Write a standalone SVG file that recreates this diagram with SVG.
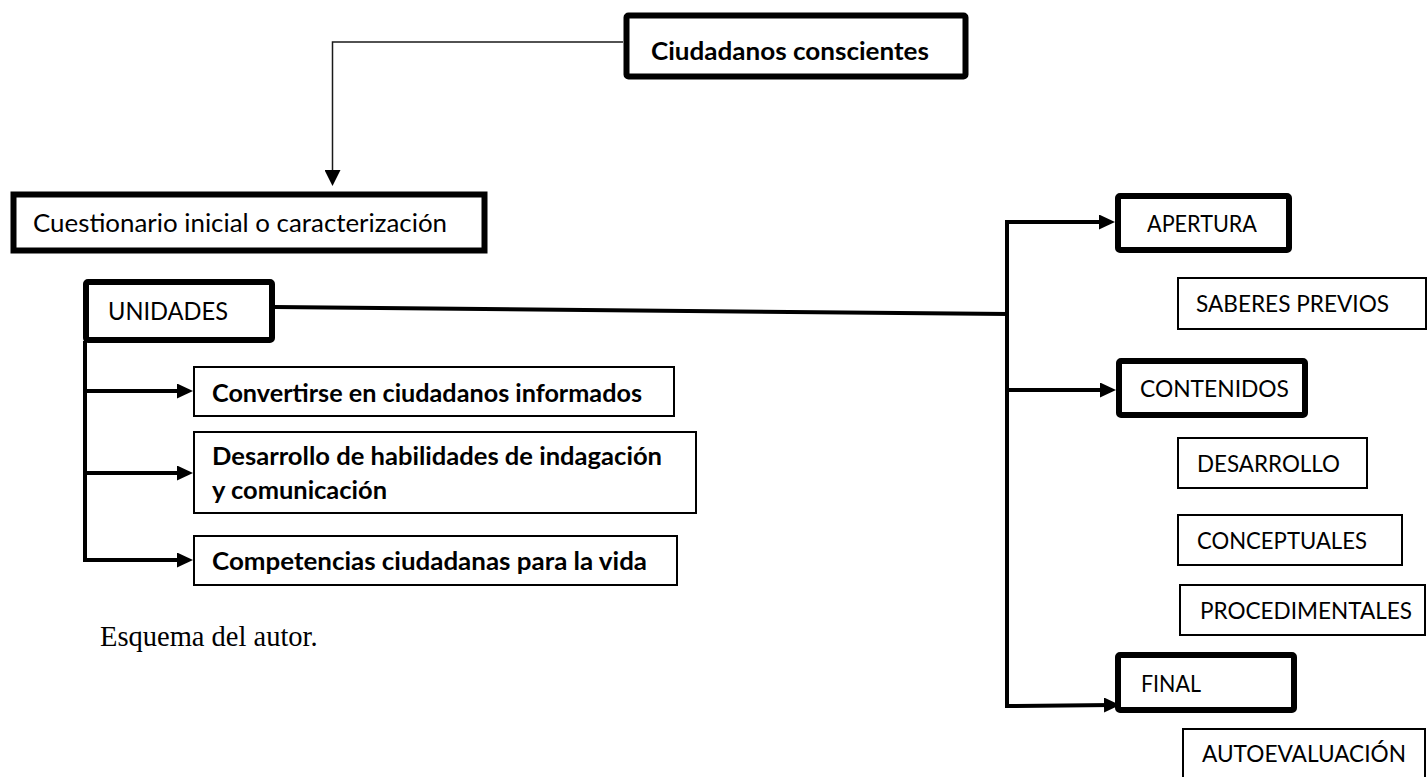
<svg xmlns="http://www.w3.org/2000/svg" width="1428" height="777" viewBox="0 0 1428 777">
<defs>
<style>
.thick{fill:#fff;stroke:#000;stroke-width:6;}
.thin{fill:#fff;stroke:#000;stroke-width:2;}
.t{font-family:Lato,"Liberation Sans",sans-serif;font-size:25px;fill:#000;}
.tr{font-family:Lato,"Liberation Sans",sans-serif;font-size:23.5px;fill:#000;}
.b{font-weight:bold;}
.conn{fill:none;stroke:#000;stroke-width:4;}
.connThin{fill:none;stroke:#1a1a1a;stroke-width:1.5;}
</style>
<marker id="ah" markerUnits="userSpaceOnUse" markerWidth="16" markerHeight="15" refX="8" refY="7.5" orient="auto">
<path d="M0,0 L16,7.5 L0,15 Z" fill="#000"/>
</marker>
<marker id="ahS" markerUnits="userSpaceOnUse" markerWidth="16" markerHeight="16" refX="8" refY="8" orient="auto">
<path d="M0,0 L16,8 L0,16 Z" fill="#000"/>
</marker>
</defs>
<rect width="1428" height="777" fill="#fff"/>

<g id="connectors">
<polyline class="connThin" points="623,42 332.5,42 332.5,178" marker-end="url(#ahS)"/>
<line class="conn" x1="85" y1="341" x2="85" y2="562" stroke-width="3.5"/>
<line class="conn" x1="85" y1="391" x2="185" y2="391" marker-end="url(#ah)"/>
<line class="conn" x1="85" y1="473" x2="185" y2="473" marker-end="url(#ah)"/>
<line class="conn" x1="85" y1="560" x2="185" y2="560" marker-end="url(#ah)"/>
<line class="conn" x1="275" y1="307" x2="1009" y2="314"/>
<line class="conn" x1="1007" y1="220" x2="1007" y2="708"/>
<line class="conn" x1="1007" y1="222" x2="1107" y2="222" marker-end="url(#ah)"/>
<line class="conn" x1="1007" y1="390" x2="1108" y2="390" marker-end="url(#ah)"/>
<line class="conn" x1="1007" y1="706" x2="1112" y2="705" marker-end="url(#ah)"/>
</g>

<g id="ciudadanos">
<rect x="626.5" y="15.5" width="339" height="61" rx="2" class="thick" stroke-width="7"/>
<text x="651" y="60" class="t b" textLength="278" lengthAdjust="spacingAndGlyphs">Ciudadanos conscientes</text>
</g>

<g id="cuestionario">
<rect x="13.5" y="194.5" width="471" height="56" class="thick" stroke-width="3"/>
<text x="33" y="232" class="t" textLength="414" lengthAdjust="spacingAndGlyphs">Cuestionario inicial o caracterización</text>
</g>

<g id="unidades">
<rect x="86" y="282" width="186" height="58" rx="2" class="thick"/>
<text x="108" y="320" class="t" textLength="120" lengthAdjust="spacingAndGlyphs">UNIDADES</text>
</g>

<g id="informados">
<rect x="194" y="367" width="480" height="49" class="thin"/>
<text x="212" y="402" class="t b" textLength="430" lengthAdjust="spacingAndGlyphs">Convertirse en ciudadanos informados</text>
</g>

<g id="indagacion">
<rect x="194" y="432" width="502" height="81" class="thin"/>
<text x="212" y="465" class="t b" textLength="450" lengthAdjust="spacingAndGlyphs">Desarrollo de habilidades de indagación</text>
<text x="212" y="499" class="t b" textLength="175" lengthAdjust="spacingAndGlyphs">y comunicación</text>
</g>

<g id="competencias">
<rect x="194" y="536" width="483" height="49" class="thin"/>
<text x="212" y="570" class="t b" textLength="435" lengthAdjust="spacingAndGlyphs">Competencias ciudadanas para la vida</text>
</g>

<g id="esquema">
<text x="100" y="646" font-family="'Liberation Serif','Times New Roman',serif" font-size="28.5" fill="#000">Esquema del autor.</text>
</g>

<g id="apertura">
<rect x="1118" y="196" width="171" height="54" rx="2" class="thick"/>
<text x="1147" y="232" class="tr" textLength="110" lengthAdjust="spacingAndGlyphs">APERTURA</text>
</g>

<g id="saberes">
<rect x="1178" y="278" width="248" height="51" class="thin"/>
<text x="1196" y="312" class="tr" textLength="193" lengthAdjust="spacingAndGlyphs">SABERES PREVIOS</text>
</g>

<g id="contenidos">
<rect x="1119" y="361" width="186" height="54" rx="2" class="thick"/>
<text x="1140" y="397" class="tr" textLength="149" lengthAdjust="spacingAndGlyphs">CONTENIDOS</text>
</g>

<g id="desarrollo">
<rect x="1178" y="438" width="189" height="50" class="thin"/>
<text x="1197" y="472" class="tr" textLength="143" lengthAdjust="spacingAndGlyphs">DESARROLLO</text>
</g>

<g id="conceptuales">
<rect x="1178" y="515" width="224" height="50" class="thin"/>
<text x="1197" y="549" class="tr" textLength="170" lengthAdjust="spacingAndGlyphs">CONCEPTUALES</text>
</g>

<g id="procedimentales">
<rect x="1180" y="585" width="245" height="50" class="thin"/>
<text x="1200" y="619" class="tr" textLength="212" lengthAdjust="spacingAndGlyphs">PROCEDIMENTALES</text>
</g>

<g id="final">
<rect x="1118" y="655" width="176" height="55" rx="2" class="thick"/>
<text x="1141" y="692" class="tr" textLength="60" lengthAdjust="spacingAndGlyphs">FINAL</text>
</g>

<g id="autoevaluacion">
<rect x="1183" y="729" width="242" height="60" class="thin"/>
<text x="1202" y="762" class="tr" textLength="204" lengthAdjust="spacingAndGlyphs">AUTOEVALUACIÓN</text>
</g>
</svg>
